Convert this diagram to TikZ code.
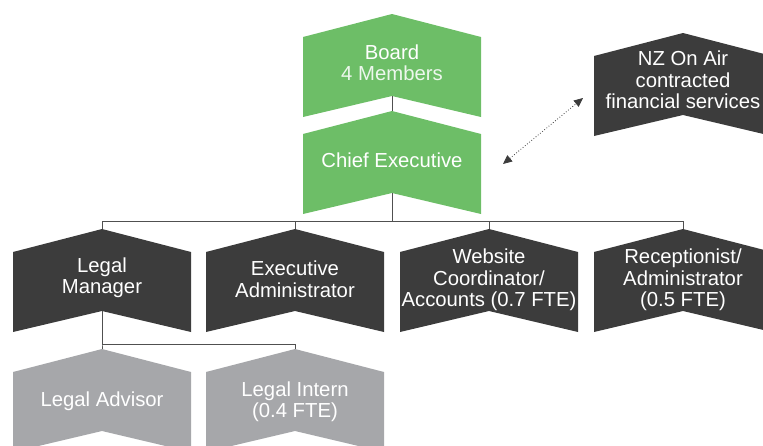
\documentclass[tikz,border=0pt]{standalone}
\usepackage{fontspec}
\setmainfont{Liberation Sans}
\usetikzlibrary{arrows.meta}
\definecolor{cgreen}{HTML}{6DBE67}
\definecolor{cdark}{HTML}{3C3C3C}
\definecolor{clight}{HTML}{A6A7AA}
\definecolor{cline}{HTML}{505050}
\tikzset{
  lbl/.style={text=white, align=center, inner sep=0pt, font=\fontsize{20.3}{21.5}\selectfont},
  conn/.style={draw=cline, line width=0.9pt},
  dotarrow/.style={draw=cdark, line width=0.8pt, dotted, {Triangle[length=9pt,width=8pt,fill=cdark]}-{Triangle[length=9pt,width=8pt,fill=cdark]}},
}
% #1 name, #2 cx, #3 apex y, #4 fill colour, #5 text y, #6 text
\newcommand\chevbox[6]{%
  \fill[#4] (#2-89,#3+23) -- (#2,#3) -- (#2+89,#3+23) -- (#2+89,#3+103) -- (#2,#3+82) -- (#2-89,#3+103) -- cycle;
  \coordinate (#1-top) at (#2,#3);
  \coordinate (#1-bot) at (#2,#3+82);
  \node[lbl] (#1) at (#2,#5) {#6};
}
\begin{document}
\begin{tikzpicture}[x=1pt,y=-1pt]
\useasboundingbox (0,0) rectangle (763,445);
\clip (0,0) rectangle (763,445);
\chevbox{board}{392}{14}{cgreen}{62.5}{Board\\{\color{white!88!cgreen}4 Members}}
\chevbox{ce}{392}{111}{cgreen}{160}{Chief Executive}
\chevbox{nz}{683}{33}{cdark}{80}{NZ On Air\\contracted\\financial services}
\chevbox{lm}{102}{229}{cdark}{277.5}{Legal\\Manager}
\chevbox{ea}{295}{229}{cdark}{279}{Executive\\Administrator}
\chevbox{wc}{489}{229}{cdark}{280}{Website\\Coordinator/\\Accounts (0.7 FTE)}
\chevbox{ra}{683}{229}{cdark}{280}{Receptionist/\\Administrator\\(0.5 FTE)}
\chevbox{la}{102}{349}{clight}{401.5}{Legal Advisor}
\chevbox{li}{295}{349}{clight}{401.5}{Legal Intern\\(0.4 FTE)}
% connectors
\draw[conn] (board-bot) -- (ce-top);
\draw[conn] (ce-bot) -- ++(0,28) -| (lm-top);
\draw[conn] (ce-bot) -- ++(0,28) -| (ea-top);
\draw[conn] (ce-bot) -- ++(0,28) -| (wc-top);
\draw[conn] (ce-bot) -- ++(0,28) -| (ra-top);
\draw[conn] (lm-bot) -- ++(0,33) -| (la-top);
\draw[conn] (lm-bot) -- ++(0,33) -| (li-top);
\coordinate (ce-link) at (503,164);
\coordinate (nz-link) at (583,98);
\draw[dotarrow] (ce-link) -- (nz-link);
\end{tikzpicture}
\end{document}
